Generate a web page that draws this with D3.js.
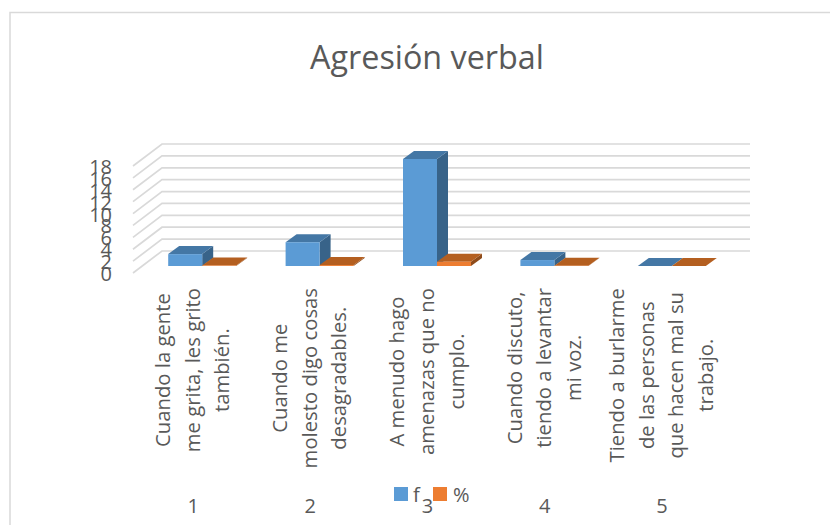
<!DOCTYPE html>
<html lang="es">
<head>
<meta charset="UTF-8">
<title>Agresión verbal</title>
<script src="https://d3js.org/d3.v7.min.js"></script>
<style>
  body { margin: 0; background: #fff; overflow: hidden; }
  svg { display: block; }
  text { font-family: "Open Sans", sans-serif; fill: #595959; }
</style>
</head>
<body>
<div id="chart"></div>
<script>
const categories = ["1", "2", "3", "4", "5"];
const questions = [
  ["Cuando la gente", "me grita, les grito", "también."],
  ["Cuando me", "molesto digo cosas", "desagradables."],
  ["A menudo hago", "amenazas que no", "cumplo."],
  ["Cuando discuto,", "tiendo a levantar", "mi voz."],
  ["Tiendo a burlarme", "de las personas", "que hacen mal su", "trabajo."]
];
const seriesNames = ["f", "%"];
const fValues = [2, 4, 18, 1, 0];
const pctValues = [0.08, 0.16, 0.72, 0.04, 0];
const yTicks = [0, 2, 4, 6, 8, 10, 12, 14, 16, 18];

const width = 830, height = 525;
const svg = d3.select("#chart").append("svg").attr("width", width).attr("height", height);

// chart frame, the picture cuts it off on the right and at the bottom
svg.append("path").attr("d", "M10,525V12.5H830").attr("fill", "none").attr("stroke", "#d9d9d9").attr("stroke-width", 1.5);

svg.append("text").attr("x", 427).attr("y", 69).attr("text-anchor", "middle")
  .attr("font-size", 32.3).text("Agresión verbal");

// front plane of the 3D box, walls are shifted by wall offset
const y = d3.scaleLinear().domain([0, 18]).range([273, 166]);
const wallX = 29, wallY = -22;
const gridRight = 750;

svg.append("g").selectAll("path").data(yTicks).join("path")
  .attr("d", d => `M133,${y(d)}L${133 + wallX},${y(d) + wallY}H${gridRight}`)
  .attr("fill", "none").attr("stroke", "#d9d9d9").attr("stroke-width", 1.7);

svg.append("g").selectAll("text").data(yTicks).join("text")
  .attr("x", 112).attr("y", d => y(d) + 8).attr("text-anchor", "end")
  .attr("font-size", 20).text(d => d);

// bars
const x = d3.scaleBand().domain(categories).range([143.5, 730.5]);
const inner = d3.scaleBand().domain(seriesNames).range([0, 68]);
const barBase = 266, depthX = 11, depthY = -8;
const h = v => y(0) - y(v);

const colors = {
  f: { front: "#5b9bd5", top: "#4477a5", side: "#386389" },
  "%": { front: "#ed7d31", top: "#b45f20", side: "#8f4c1b" }
};

function drawBar(g, cat, name, value) {
  const c = colors[name];
  const x0 = x(cat) + (x.bandwidth() - 68) / 2 + inner(name);
  const w = inner.bandwidth();
  const top = barBase - h(value);
  g.append("path").attr("fill", c.side)
    .attr("d", `M${x0 + w},${barBase}V${top}l${depthX},${depthY}V${barBase + depthY}Z`);
  g.append("path").attr("fill", c.top)
    .attr("d", `M${x0},${top}h${w}l${depthX},${depthY}h${-w}Z`);
  if (value > 0) {
    g.append("rect").attr("fill", c.front)
      .attr("x", x0).attr("y", top).attr("width", w).attr("height", h(value));
  }
}

const bars = svg.append("g");
categories.forEach((cat, i) => {
  drawBar(bars, cat, "f", fValues[i]);
  drawBar(bars, cat, "%", pctValues[i]);
});

// rotated question labels, the longest line of each block ends at labelTop
const labelX = d3.scaleBand().domain(categories).range([133.5, 719.5]);
const labelTop = 288;
categories.forEach((cat, i) => {
  const lines = questions[i];
  const cx = labelX(cat) + labelX.bandwidth() / 2;
  const g = svg.append("g");
  const texts = lines.map((line, j) => g.append("text")
    .attr("x", 0).attr("y", (j - (lines.length - 1) / 2) * 29.7 + 6)
    .attr("text-anchor", "middle").attr("font-size", 20.3).text(line));
  const longest = d3.max(texts, t => t.node().getComputedTextLength());
  g.attr("transform", `translate(${cx + 1.5},${labelTop + longest / 2}) rotate(-90)`);
  svg.append("text").attr("x", cx + 1).attr("y", 513).attr("text-anchor", "middle")
    .attr("font-size", 20).text(cat);
});

// legend
const legend = svg.append("g");
[[394, 413], [433, 453]].forEach((p, i) => {
  legend.append("rect").attr("x", p[0]).attr("y", 487).attr("width", 14).attr("height", 14)
    .attr("fill", colors[seriesNames[i]].front);
  legend.append("text").attr("x", p[1]).attr("y", 502).attr("font-size", 20).text(seriesNames[i]);
});
</script>
</body>
</html>
